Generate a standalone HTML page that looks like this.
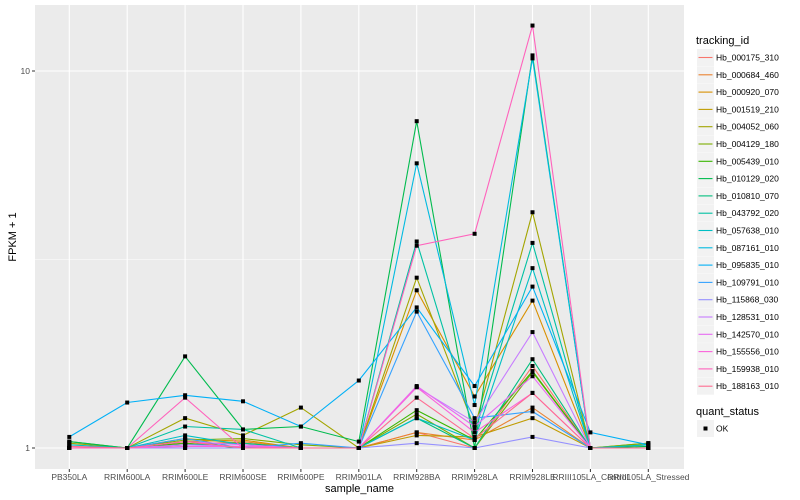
<!DOCTYPE html>
<html><head><meta charset="utf-8">
<style>
body{margin:0;background:#fff;}
svg{display:block;font-family:"Liberation Sans",sans-serif;}
</style></head>
<body>
<svg id="chart" width="800" height="500" viewBox="0 0 800 500"></svg>
<script>
const categories=["PB350LA","RRIM600LA","RRIM600LE","RRIM600SE","RRIM600PE","RRIM901LA","RRIM928BA","RRIM928LA","RRIM928LE","RRIII105LA_Control","RRIII105LA_Stressed"];
const seriesNames=["Hb_000175_310","Hb_000684_460","Hb_000920_070","Hb_001519_210","Hb_004052_060","Hb_004129_180","Hb_005439_010","Hb_010129_020","Hb_010810_070","Hb_043792_020","Hb_057638_010","Hb_087161_010","Hb_095835_010","Hb_109791_010","Hb_115868_030","Hb_128531_010","Hb_142570_010","Hb_155556_010","Hb_159938_010","Hb_188163_010"];
const colors=["#F8766D","#EA8331","#D89000","#C09B00","#A3A500","#7CAE00","#39B600","#00BB4E","#00BF7D","#00C1A3","#00BFC4","#00BAE0","#00B0F6","#35A2FF","#9590FF","#C77CFF","#E76BF3","#FA62DB","#FF62BC","#FF6C91"];
const s01=[1.01,1,1.03,1,1,1,1.10,1.0,1.65,1,1];
const s02=[1,1,1.02,1.04,1,1,1.10,1.05,1.28,1,1];
const s03=[1,1,1.04,1.05,1,1,2.62,1.37,2.46,1,1];
const s04=[1,1,1.06,1.03,1,1,1.08,1.07,1.20,1,1.02];
const s05=[1.03,1,1.20,1.08,1.28,1,2.83,1.13,4.22,1,1.03];
const s06=[1.04,1,1.05,1.06,1.02,1,1.23,1.0,1.59,1,1.03];
const s07=[1,1,1.03,1.0,1,1.0,1.26,1.05,1.60,1,1];
const s08=[1.04,1,1.75,1.12,1.14,1.04,7.36,1.0,11.0,1,1.01];
const s09=[1,1,1.02,1.03,1,1,1.20,1.0,1.72,1,1];
const s10=[1,1,1.14,1.12,1.0,1,3.53,1.10,3.50,1,1];
const s11=[1.02,1,1.08,1.02,1,1,1.20,1.05,3.0,1,1.02];
const s12=[1,1,1,1,1,1,5.69,1.30,10.8,1,1];
const s13=[1.07,1.32,1.38,1.33,1.14,1.51,2.36,1.46,2.68,1.10,1.02];
const s14=[1,1,1.06,1.0,1.03,1,2.30,1.20,1.25,1,1];
const s15=[1,1,1,1,1,1,1.03,1.0,1.07,1,1];
const s16=[1,1,1.02,1.01,1,1,1.45,1.17,2.03,1,1];
const s17=[1,1,1.04,1.02,1,1,1.46,1.14,1.55,1,1];
const s18=[1,1,1.01,1.01,1,1,1.45,1.10,1.40,1,1];
const s19=[1,1,1.36,1,1,1,3.44,3.70,13.2,1,1];
const s20=[1.01,1,1.04,1,1,1,1.36,1.06,1.40,1,1];
const seriesValues=[s01,s02,s03,s04,s05,s06,s07,s08,s09,s10,s11,s12,s13,s14,s15,s16,s17,s18,s19,s20];
const yTicks=[1,10];
const yTickLabels=["1","10"];

const NS="http://www.w3.org/2000/svg";
const svg=document.getElementById("chart");
const P={l:35,r:684,t:5,b:469};
function xPos(i){return 69.3+i*57.9;}
function yPos(v){return 448-377*Math.log10(v);}
function mk(tag,attrs,parent){const e=document.createElementNS(NS,tag);for(const k in attrs)e.setAttribute(k,attrs[k]);(parent||svg).appendChild(e);return e;}

const panel=mk("rect",{x:P.l,y:P.t,width:P.r-P.l,height:P.b-P.t,fill:"#EBEBEB"});


// minor grid
const minor=mk("line",{x1:P.l,x2:P.r,y1:yPos(Math.sqrt(10)),y2:yPos(Math.sqrt(10)),stroke:"#fff","stroke-width":0.5});


yTicks.forEach((t,i)=>{
  const g=mk("line",{x1:P.l,x2:P.r,y1:yPos(t),y2:yPos(t),stroke:"#fff","stroke-width":1.1});
  
  
  const tk=mk("line",{x1:P.l-3,x2:P.l,y1:yPos(t),y2:yPos(t),stroke:"#333","stroke-width":1});
  
  
  const lb=mk("text",{x:P.l-5,y:yPos(t)+3,"text-anchor":"end","font-size":"8.5",fill:"#4D4D4D"});
  lb.textContent=yTickLabels[i];
  
  
});
categories.forEach((c,i)=>{
  const g=mk("line",{x1:xPos(i),x2:xPos(i),y1:P.t,y2:P.b,stroke:"#fff","stroke-width":1.1});
  
  
  const tk=mk("line",{x1:xPos(i),x2:xPos(i),y1:P.b,y2:P.b+3,stroke:"#333","stroke-width":1});
  
  
  const lb=mk("text",{x:xPos(i),y:P.b+11,"text-anchor":"middle","font-size":"8.5",fill:"#4D4D4D"});
  lb.textContent=c;
  
  
});
seriesValues.forEach((vals,si)=>{
  const d=vals.map((v,i)=>(i?"L":"M")+xPos(i).toFixed(1)+","+yPos(v).toFixed(1)).join(" ");
  const p=mk("path",{d:d,fill:"none",stroke:colors[si],"stroke-width":1.1});
  
  
});
seriesValues.forEach((vals,si)=>{
  vals.forEach((v,i)=>{
    const r=mk("rect",{x:xPos(i)-2,y:yPos(v)-2,width:4,height:4,fill:"#000"});
    
    
  });
});
const xt=mk("text",{x:(P.l+P.r)/2,y:492,"text-anchor":"middle","font-size":"11",fill:"#000"});
xt.textContent="sample_name";


const yt=mk("text",{x:0,y:0,"text-anchor":"middle","font-size":"11",fill:"#000",transform:"translate(16,237) rotate(-90)"});
yt.textContent="FPKM + 1";


// legend
const lt=mk("text",{x:696,y:44,"font-size":"11",fill:"#000"});
lt.textContent="tracking_id";


seriesNames.forEach((n,i)=>{
  const y=49+i*17.3;
  const bx=mk("rect",{x:697,y:y,width:17,height:17,fill:"#F2F2F2"});
  
  
  const ln=mk("line",{x1:698.5,x2:712.5,y1:y+8.5,y2:y+8.5,stroke:colors[i],"stroke-width":1.1});
  
  
  const tx=mk("text",{x:716,y:y+11.5,"font-size":"8.5",fill:"#000"});
  tx.textContent=n;
  
  
});
const qt=mk("text",{x:696,y:415,"font-size":"11",fill:"#000"});
qt.textContent="quant_status";


const qb=mk("rect",{x:697,y:420,width:17,height:17,fill:"#F2F2F2"});


const qp=mk("rect",{x:703.5,y:426.5,width:4,height:4,fill:"#000"});


const qx=mk("text",{x:716,y:431.5,"font-size":"8.5",fill:"#000"});
qx.textContent="OK";


</script>
</body></html>
